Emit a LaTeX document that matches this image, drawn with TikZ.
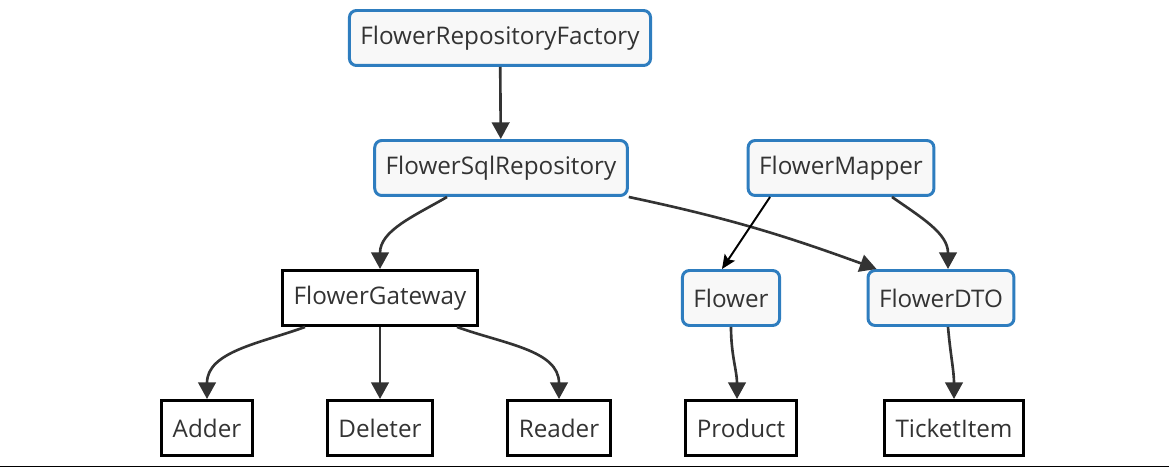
\documentclass[tikz,border=0pt]{standalone}
\usepackage{fontspec}
\setmainfont{Open Sans}
\usetikzlibrary{arrows.meta}
\definecolor{ink}{HTML}{333333}
\definecolor{ifaceblue}{HTML}{2E7DBF}
\definecolor{ifacefill}{HTML}{F8F8F8}

\begin{document}
\begin{tikzpicture}[x=0.02cm,y=-0.02cm,
                    font=\fontsize{13.8}{16}\selectfont,
                    iface/.style={draw=ifaceblue,fill=ifacefill,text=ink,
                                  line width=1.7pt,rounded corners=4pt,
                                  minimum height=1.1cm,inner xsep=0.22cm},
                    impl/.style={draw=black,fill=white,text=ink,
                                 line width=1.7pt,
                                 minimum height=1.1cm,inner xsep=0.22cm},
                    uses/.style={draw=ink,line width=1.5pt,
                                 -{Triangle[length=9.5pt,width=10pt]}},
                    maps/.style={draw=black,line width=1.1pt,
                                 -{Stealth[length=8pt,width=7pt,inset=1.5pt]}}]
  \useasboundingbox (0,0) rectangle (1169,469);
  % top row
  \node[iface] (factory) at (500,38) {FlowerRepositoryFactory};
  % repositories and mappers
  \node[iface] (sql) at (501,168) {FlowerSqlRepository};
  \node[iface] (mapper) at (841,168) {FlowerMapper};
  % gateway and models
  \node[impl] (gateway) at (380,298) {FlowerGateway};
  \node[iface] (flower) at (731,298) {Flower};
  \node[iface] (dto) at (941,298) {FlowerDTO};
  % leaves
  \node[impl] (adder) at (207,428) {Adder};
  \node[impl] (deleter) at (380,428) {Deleter};
  \node[impl] (reader) at (559,428) {Reader};
  \node[impl] (product) at (741,428) {Product};
  \node[impl] (ticket) at (954,428) {TicketItem};

  \draw[uses] (factory) -- (sql);
  \draw[uses] ([xshift=-1.08cm]sql.south) to[out=-150,in=90] (gateway.north);
  \draw[uses] (sql.south east) to[out=-12,in=160]
              ([xshift=0.2cm]dto.north west);
  \draw[maps] ([xshift=-1.42cm]mapper.south) -- ([xshift=-0.18cm]flower.north);
  \draw[uses] ([xshift=1.02cm]mapper.south) to[out=-35,in=90]
              ([xshift=0.14cm]dto.north);
  \draw[uses] ([xshift=-1.5cm]gateway.south) to[out=-160,in=90] (adder.north);
  \draw[uses] (gateway.south) -- (deleter.north);
  \draw[uses] ([xshift=1.54cm]gateway.south) to[out=-20,in=90] (reader.north);
  \draw[uses] (flower.south) to[out=-90,in=90]
              ([xshift=-0.08cm]product.north);
  \draw[uses] ([xshift=0.14cm]dto.south) to[out=-85,in=90] (ticket.north);

  % rule under the picture
  \draw[line width=1.1pt] (0,466.5) -- (1169,466.5);
\end{tikzpicture}
\end{document}
